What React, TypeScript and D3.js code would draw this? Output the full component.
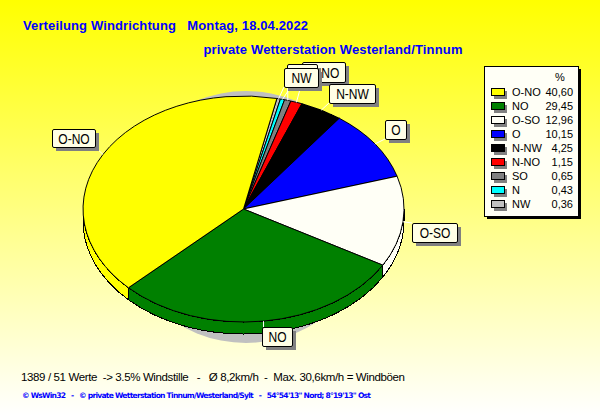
import React from "react";
import * as d3 from "d3";

const categories = ["O-NO", "NO", "O-SO", "O", "N-NW", "N-NO", "SO", "N", "NW"];
const percents = [40.6, 29.45, 12.96, 10.15, 4.25, 1.15, 0.65, 0.43, 0.36];
const percentLabels = ["40,60", "29,45", "12,96", "10,15", "4,25", "1,15", "0,65", "0,43", "0,36"];
const colors = ["#ffff00", "#008000", "#fffff6", "#0000ff", "#000000", "#ff0000", "#808080", "#00ffff", "#c0c0c0"];
// clockwise order of the slices round the pie
const sliceOrder = ["NW", "N", "SO", "N-NO", "N-NW", "O", "O-SO", "NO", "O-NO"];
// label boxes [x0, y0, x1, y1], in painting order
const labelBoxes: Record<string, number[]> = {
  "N-NO": [302, 62, 345, 82],
  N: [292, 66, 312, 85],
  SO: [287, 64, 317, 83],
  NW: [284, 68, 318, 87],
  "N-NW": [329, 84, 375, 103],
  O: [385, 120, 406, 139],
  "O-NO": [52, 129, 95, 147],
  "O-SO": [412, 223, 457, 242],
  NO: [262, 327, 292, 346],
};
const labelOrder = ["N-NO", "N", "SO", "NW", "N-NW", "O", "O-NO", "O-SO", "NO"];

const cx = 243.5, cy = 209, rx = 160.5, ry = 113, depth = 12;
const startDeg = 12;
const rad = (d: number) => (d * Math.PI) / 180;
const px = (a: number) => cx + rx * Math.sin(a);
const py = (a: number, off = 0) => cy + off - ry * Math.cos(a);

const pieGen = d3
  .pie<string>()
  .sort(null)
  .value((c) => percents[categories.indexOf(c)])
  .startAngle(rad(startDeg))
  .endAngle(rad(startDeg + 360));
const arcs = pieGen(sliceOrder);

const unitArc = d3.arc<any>().innerRadius(0).outerRadius(1);

function wallPath(a0: number, a1: number) {
  const x0 = px(a0), x1 = px(a1);
  return (
    `M${x0},${py(a0)} A${rx},${ry} 0 0 1 ${x1},${py(a1)} ` +
    `L${x1},${py(a1, depth)} A${rx},${ry} 0 0 0 ${x0},${py(a0, depth)} Z`
  );
}

const title1 = "Verteilung Windrichtung   Montag, 18.04.2022";
const title2 = "private Wetterstation Westerland/Tinnum";
const info = "1389 / 51 Werte  -> 3.5% Windstille   -   Ø 8,2km/h  -  Max. 30,6km/h = Windböen";
const footer = "© WsWin32   -   © private Wetterstation Tinnum/Westerland/Sylt   -   54°54'13\" Nord; 8°19'13\" Ost";

const sans = "'Liberation Sans', Arial, sans-serif";

export default function App() {
  const front = [rad(90), rad(270)];
  const rowY = d3.scalePoint<string>().domain(categories).range([92, 204]);
  return (
    <svg
      width={600}
      height={415}
      viewBox="0 0 600 415"
      style={{ position: "absolute", left: 0, top: 0, display: "block" }}
      fontFamily={sans}
    >
      <defs>
        <linearGradient id="bg" x1="0" y1="0" x2="0" y2="1">
          <stop offset="0" stopColor="#ffff00" />
          <stop offset="1" stopColor="#ffffff" />
        </linearGradient>
      </defs>
      <rect width={600} height={415} fill="url(#bg)" />

      <text x={23} y={30} fontSize={13} fontWeight="bold" fill="#0000ff" textLength={285} lengthAdjust="spacing" style={{ whiteSpace: "pre" }}>{title1}</text>
      <text x={203.5} y={54} fontSize={13} fontWeight="bold" fill="#0000ff" textLength={259} lengthAdjust="spacing">{title2}</text>

      {/* shadow */}
      <ellipse cx={246} cy={217} rx={128} ry={126} fill="#c0c0c0" />

      {/* side walls */}
      <g shapeRendering="crispEdges">
        {arcs.map((d) => {
          const a0 = Math.max(d.startAngle, front[0]);
          const a1 = Math.min(d.endAngle, front[1]);
          if (a1 <= a0) return null;
          return (
            <path key={d.data} d={wallPath(a0, a1)} fill={colors[categories.indexOf(d.data)]} stroke="#000" strokeWidth={1} />
          );
        })}
        {/* top faces */}
        {arcs.map((d) => (
          <path
            key={d.data}
            transform={`translate(${cx},${cy}) scale(${rx},${ry})`}
            d={unitArc(d) as string}
            fill={colors[categories.indexOf(d.data)]}
            stroke="#000"
            strokeWidth={1}
            vectorEffect="non-scaling-stroke"
          />
        ))}
      </g>

      {/* leader lines */}
      {arcs.map((d) => {
        const mid = (d.startAngle + d.endAngle) / 2;
        const [x0, y0, x1, y1] = labelBoxes[d.data];
        const ex = Math.max(x0, Math.min(x1, px(mid)));
        const ey = Math.max(y0, Math.min(y1, py(mid)));
        return <line key={d.data} x1={px(mid)} y1={py(mid)} x2={ex} y2={ey} stroke="#ffffff" strokeWidth={1} />;
      })}

      {/* labels */}
      {labelOrder.map((c) => {
        const [x0, y0, x1, y1] = labelBoxes[c];
        return (
          <g key={c}>
            <rect x={x0 + 4} y={y0 + 4} width={x1 - x0} height={y1 - y0} fill="#808080" shapeRendering="crispEdges" />
            <rect x={x0 + 0.5} y={y0 + 0.5} width={x1 - x0} height={y1 - y0} rx={1.5} fill="#ffffe6" stroke="#000" strokeWidth={1} />
            <text
              transform={`translate(${(x0 + x1) / 2 + 0.5},${(y0 + y1) / 2 + 5.5}) scale(0.86,1)`}
              fontSize={14}
              textAnchor="middle"
              fill="#000"
            >
              {c}
            </text>
          </g>
        );
      })}

      {/* legend */}
      <rect x={487} y={69} width={94} height={150} fill="#000" shapeRendering="crispEdges" />
      <rect x={484.5} y={66.5} width={94} height={150} fill="#fffff6" stroke="#000" strokeWidth={1} shapeRendering="crispEdges" />
      <text x={560} y={81} fontSize={11} textAnchor="middle" fill="#000">%</text>
      {categories.map((c, i) => {
        const y = rowY(c) as number;
        return (
          <g key={c}>
            <rect x={494} y={y - 1} width={13} height={8} fill="#808080" shapeRendering="crispEdges" />
            <rect x={491.5} y={y - 3.5} width={13} height={7} fill={colors[i]} stroke="#000" strokeWidth={1} shapeRendering="crispEdges" />
            <text x={512} y={y + 4} fontSize={11} fill="#000">{c}</text>
            <text x={573} y={y + 4} fontSize={11} textAnchor="end" fill="#000">{percentLabels[i]}</text>
          </g>
        );
      })}

      <text x={21} y={381} fontSize={11.5} fill="#000" textLength={384} lengthAdjust="spacing" style={{ whiteSpace: "pre" }}>{info}</text>
      <text x={22} y={398} fontSize={7.6} fontWeight="bold" fontFamily="'DejaVu Sans', sans-serif" fill="#0000ff" textLength={349} lengthAdjust="spacing" style={{ whiteSpace: "pre" }}>{footer}</text>
    </svg>
  );
}
